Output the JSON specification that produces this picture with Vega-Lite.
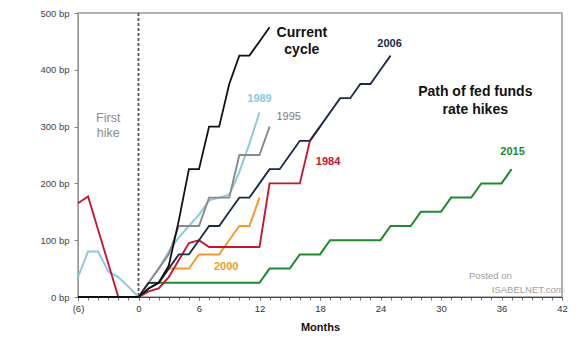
{
  "$schema": "https://vega.github.io/schema/vega-lite/v6.json",
  "autosize": {"type": "none"},
  "width": 484,
  "height": 284,
  "padding": {"left": 78, "top": 13, "right": 24, "bottom": 41},
  "background": "white",
  "config": {"font": "Liberation Sans", "view": {"stroke": "#9a9a9a", "strokeWidth": 1.5}},
  "resolve": {"axis": {"x": "independent"}},
  "datasets": {
    "lines": [
      {"s": "2015", "m": 0, "v": 0}, {"s": "2015", "m": 1, "v": 15}, {"s": "2015", "m": 2, "v": 25}, {"s": "2015", "m": 3, "v": 25}, {"s": "2015", "m": 4, "v": 25}, {"s": "2015", "m": 5, "v": 25}, {"s": "2015", "m": 6, "v": 25}, {"s": "2015", "m": 7, "v": 25}, {"s": "2015", "m": 8, "v": 25}, {"s": "2015", "m": 9, "v": 25}, {"s": "2015", "m": 10, "v": 25}, {"s": "2015", "m": 11, "v": 25}, {"s": "2015", "m": 12, "v": 25}, {"s": "2015", "m": 13, "v": 50}, {"s": "2015", "m": 14, "v": 50}, {"s": "2015", "m": 15, "v": 50}, {"s": "2015", "m": 16, "v": 75}, {"s": "2015", "m": 17, "v": 75}, {"s": "2015", "m": 18, "v": 75}, {"s": "2015", "m": 19, "v": 100}, {"s": "2015", "m": 20, "v": 100}, {"s": "2015", "m": 21, "v": 100}, {"s": "2015", "m": 22, "v": 100}, {"s": "2015", "m": 23, "v": 100}, {"s": "2015", "m": 24, "v": 100}, {"s": "2015", "m": 25, "v": 125}, {"s": "2015", "m": 26, "v": 125}, {"s": "2015", "m": 27, "v": 125}, {"s": "2015", "m": 28, "v": 150}, {"s": "2015", "m": 29, "v": 150}, {"s": "2015", "m": 30, "v": 150}, {"s": "2015", "m": 31, "v": 175}, {"s": "2015", "m": 32, "v": 175}, {"s": "2015", "m": 33, "v": 175}, {"s": "2015", "m": 34, "v": 200}, {"s": "2015", "m": 35, "v": 200}, {"s": "2015", "m": 36, "v": 200}, {"s": "2015", "m": 37, "v": 225},
      {"s": "2000", "m": 0, "v": 0}, {"s": "2000", "m": 1, "v": 25}, {"s": "2000", "m": 2, "v": 25}, {"s": "2000", "m": 3, "v": 50}, {"s": "2000", "m": 4, "v": 50}, {"s": "2000", "m": 5, "v": 50}, {"s": "2000", "m": 6, "v": 75}, {"s": "2000", "m": 7, "v": 75}, {"s": "2000", "m": 8, "v": 75}, {"s": "2000", "m": 9, "v": 100}, {"s": "2000", "m": 10, "v": 125}, {"s": "2000", "m": 11, "v": 125}, {"s": "2000", "m": 12, "v": 175},
      {"s": "1989", "m": -6, "v": 35}, {"s": "1989", "m": -5, "v": 80}, {"s": "1989", "m": -4, "v": 80}, {"s": "1989", "m": -3, "v": 45}, {"s": "1989", "m": -2, "v": 35}, {"s": "1989", "m": -1, "v": 18}, {"s": "1989", "m": 0, "v": 0}, {"s": "1989", "m": 1, "v": 25}, {"s": "1989", "m": 2, "v": 50}, {"s": "1989", "m": 3, "v": 80}, {"s": "1989", "m": 4, "v": 105}, {"s": "1989", "m": 5, "v": 125}, {"s": "1989", "m": 6, "v": 145}, {"s": "1989", "m": 7, "v": 170}, {"s": "1989", "m": 8, "v": 175}, {"s": "1989", "m": 9, "v": 180}, {"s": "1989", "m": 10, "v": 220}, {"s": "1989", "m": 11, "v": 270}, {"s": "1989", "m": 12, "v": 325},
      {"s": "1995", "m": 0, "v": 0}, {"s": "1995", "m": 1, "v": 25}, {"s": "1995", "m": 2, "v": 50}, {"s": "1995", "m": 3, "v": 75}, {"s": "1995", "m": 4, "v": 125}, {"s": "1995", "m": 5, "v": 125}, {"s": "1995", "m": 6, "v": 125}, {"s": "1995", "m": 7, "v": 175}, {"s": "1995", "m": 8, "v": 175}, {"s": "1995", "m": 9, "v": 175}, {"s": "1995", "m": 10, "v": 250}, {"s": "1995", "m": 11, "v": 250}, {"s": "1995", "m": 12, "v": 250}, {"s": "1995", "m": 13, "v": 300},
      {"s": "1984", "m": -6, "v": 165}, {"s": "1984", "m": -5, "v": 177}, {"s": "1984", "m": -4, "v": 118}, {"s": "1984", "m": -3, "v": 59}, {"s": "1984", "m": -2, "v": 0}, {"s": "1984", "m": -1, "v": 0}, {"s": "1984", "m": 0, "v": 0}, {"s": "1984", "m": 1, "v": 10}, {"s": "1984", "m": 2, "v": 15}, {"s": "1984", "m": 3, "v": 35}, {"s": "1984", "m": 4, "v": 65}, {"s": "1984", "m": 5, "v": 95}, {"s": "1984", "m": 6, "v": 100}, {"s": "1984", "m": 7, "v": 88}, {"s": "1984", "m": 8, "v": 88}, {"s": "1984", "m": 9, "v": 88}, {"s": "1984", "m": 10, "v": 88}, {"s": "1984", "m": 11, "v": 88}, {"s": "1984", "m": 12, "v": 88}, {"s": "1984", "m": 13, "v": 200}, {"s": "1984", "m": 14, "v": 200}, {"s": "1984", "m": 15, "v": 200}, {"s": "1984", "m": 16, "v": 200}, {"s": "1984", "m": 17, "v": 275}, {"s": "1984", "m": 18, "v": 300},
      {"s": "2006", "m": 0, "v": 0}, {"s": "2006", "m": 1, "v": 25}, {"s": "2006", "m": 2, "v": 25}, {"s": "2006", "m": 3, "v": 50}, {"s": "2006", "m": 4, "v": 75}, {"s": "2006", "m": 5, "v": 75}, {"s": "2006", "m": 6, "v": 100}, {"s": "2006", "m": 7, "v": 125}, {"s": "2006", "m": 8, "v": 125}, {"s": "2006", "m": 9, "v": 150}, {"s": "2006", "m": 10, "v": 175}, {"s": "2006", "m": 11, "v": 175}, {"s": "2006", "m": 12, "v": 200}, {"s": "2006", "m": 13, "v": 225}, {"s": "2006", "m": 14, "v": 225}, {"s": "2006", "m": 15, "v": 250}, {"s": "2006", "m": 16, "v": 275}, {"s": "2006", "m": 17, "v": 275}, {"s": "2006", "m": 18, "v": 300}, {"s": "2006", "m": 19, "v": 325}, {"s": "2006", "m": 20, "v": 350}, {"s": "2006", "m": 21, "v": 350}, {"s": "2006", "m": 22, "v": 375}, {"s": "2006", "m": 23, "v": 375}, {"s": "2006", "m": 24, "v": 400}, {"s": "2006", "m": 25, "v": 425},
      {"s": "Current", "m": -6, "v": 0}, {"s": "Current", "m": -5, "v": 0}, {"s": "Current", "m": -4, "v": 0}, {"s": "Current", "m": -3, "v": 0}, {"s": "Current", "m": -2, "v": 0}, {"s": "Current", "m": -1, "v": 0}, {"s": "Current", "m": 0, "v": 0}, {"s": "Current", "m": 1, "v": 15}, {"s": "Current", "m": 2, "v": 25}, {"s": "Current", "m": 3, "v": 55}, {"s": "Current", "m": 4, "v": 135}, {"s": "Current", "m": 5, "v": 225}, {"s": "Current", "m": 6, "v": 225}, {"s": "Current", "m": 7, "v": 300}, {"s": "Current", "m": 8, "v": 300}, {"s": "Current", "m": 9, "v": 375}, {"s": "Current", "m": 10, "v": 425}, {"s": "Current", "m": 11, "v": 425}, {"s": "Current", "m": 12, "v": 450}, {"s": "Current", "m": 13, "v": 475}
    ],
    "yearLabels": [
      {"s": "2006", "m": 24.9, "v": 445, "t": "2006"},
      {"s": "1989", "m": 12.0, "v": 349, "t": "1989"},
      {"s": "1984", "m": 18.8, "v": 238, "t": "1984"},
      {"s": "2000", "m": 8.7, "v": 52, "t": "2000"},
      {"s": "2015", "m": 37.1, "v": 255, "t": "2015"}
    ],
    "grayLabels": [
      {"s": "1995", "m": 14.9, "v": 317, "t": "1995"}
    ],
    "currentLabels": [
      {"s": "Current", "m": 16.2, "v": 465, "t": "Current"},
      {"s": "Current", "m": 16.2, "v": 435, "t": "cycle"}
    ],
    "titleLabels": [
      {"m": 33.4, "v": 361, "t": "Path of fed funds"},
      {"m": 33.4, "v": 329, "t": "rate hikes"}
    ],
    "firstHike": [
      {"m": -3.0, "v": 315, "t": "First"},
      {"m": -3.0, "v": 289, "t": "hike"}
    ],
    "watermark": [
      {"m": 34.9, "v": 37, "t": "Posted on"},
      {"m": 38.6, "v": 12, "t": "ISABELNET.com"}
    ]
  },
  "layer": [
    {
      "data": {"values": [{"m": 0}]},
      "mark": {"type": "rule", "color": "#555555", "strokeWidth": 1.8, "strokeDash": [3, 2]},
      "encoding": {
        "x": {"field": "m", "type": "quantitative", "scale": {"domain": [-6, 42], "nice": false, "zero": false},
          "axis": {
            "orient": "bottom",
            "values": [-6,-5,-4,-3,-2,-1,0,1,2,3,4,5,6,7,8,9,10,11,12,13,14,15,16,17,18,19,20,21,22,23,24,25,26,27,28,29,30,31,32,33,34,35,36,37,38,39,40,41,42],
            "labels": false, "domain": false, "title": null, "grid": false,
            "tickSize": 3, "tickColor": "#777777"
          }
        }
      }
    },
    {
      "data": {"name": "lines"},
      "mark": {"type": "line", "strokeJoin": "miter"},
      "encoding": {
        "x": {"field": "m", "type": "quantitative",
          "axis": {
            "orient": "bottom",
            "values": [-6, 0, 6, 12, 18, 24, 30, 36, 42],
            "labelExpr": "datum.value < 0 ? '(6)' : format(datum.value, 'd')",
            "labelOverlap": false, "labelFlush": false, "labelBound": false,
            "title": "Months", "titleFontWeight": "bold", "titleFontSize": 11, "titleColor": "#111111", "titlePadding": 9,
            "tickSize": 3, "tickColor": "#777777", "labelPadding": 3, "labelFontSize": 9.5, "labelColor": "#333333",
            "domainColor": "#444444", "grid": false
          }},
        "y": {"field": "v", "type": "quantitative", "scale": {"domain": [0, 500], "nice": false},
          "axis": {"values": [0,50,100,150,200,250,300,350,400,450,500], "labelExpr": "datum.value + ' bp'", "title": null,
            "tickSize": 4, "tickColor": "#888888", "labelPadding": 5, "labelFontSize": 9.5, "labelColor": "#444444", "domainColor": "#999999", "grid": false}},
        "color": {"field": "s", "type": "nominal", "legend": null,
          "scale": {"domain": ["2015", "2000", "1989", "1995", "1984", "2006", "Current"],
                    "range": ["#1e8a30", "#f39a2b", "#8cc8e0", "#8a8a8a", "#c8142e", "#1c2a48", "#111111"]}},
        "size": {"field": "s", "type": "nominal", "legend": null,
          "scale": {"domain": ["2015", "2000", "1989", "1995", "1984", "2006", "Current"],
                    "range": [2, 1.8, 1.2, 1.5, 2, 2, 2.5]}}
      }
    },
    {
      "data": {"name": "yearLabels"},
      "mark": {"type": "text", "fontWeight": "bold", "fontSize": 11},
      "encoding": {
        "x": {"field": "m", "type": "quantitative", "axis": null},
        "y": {"field": "v", "type": "quantitative"},
        "text": {"field": "t"},
        "color": {"field": "s", "type": "nominal", "legend": null}
      }
    },
    {
      "data": {"name": "grayLabels"},
      "mark": {"type": "text", "fontSize": 11, "color": "#7a7a7a"},
      "encoding": {
        "x": {"field": "m", "type": "quantitative", "axis": null},
        "y": {"field": "v", "type": "quantitative"},
        "text": {"field": "t"}
      }
    },
    {
      "data": {"name": "currentLabels"},
      "mark": {"type": "text", "fontWeight": "bold", "fontSize": 14, "color": "#111111"},
      "encoding": {
        "x": {"field": "m", "type": "quantitative", "axis": null},
        "y": {"field": "v", "type": "quantitative"},
        "text": {"field": "t"}
      }
    },
    {
      "data": {"name": "titleLabels"},
      "mark": {"type": "text", "fontWeight": "bold", "fontSize": 14, "color": "#111111"},
      "encoding": {
        "x": {"field": "m", "type": "quantitative", "axis": null},
        "y": {"field": "v", "type": "quantitative"},
        "text": {"field": "t"}
      }
    },
    {
      "data": {"name": "firstHike"},
      "mark": {"type": "text", "fontSize": 12.5, "color": "#8a8a8a"},
      "encoding": {
        "x": {"field": "m", "type": "quantitative", "axis": null},
        "y": {"field": "v", "type": "quantitative"},
        "text": {"field": "t"}
      }
    },
    {
      "data": {"name": "watermark"},
      "mark": {"type": "text", "fontSize": 9.5, "color": "#a0a0a0", "clip": false},
      "encoding": {
        "x": {"field": "m", "type": "quantitative", "axis": null},
        "y": {"field": "v", "type": "quantitative"},
        "text": {"field": "t"}
      }
    }
  ]
}
